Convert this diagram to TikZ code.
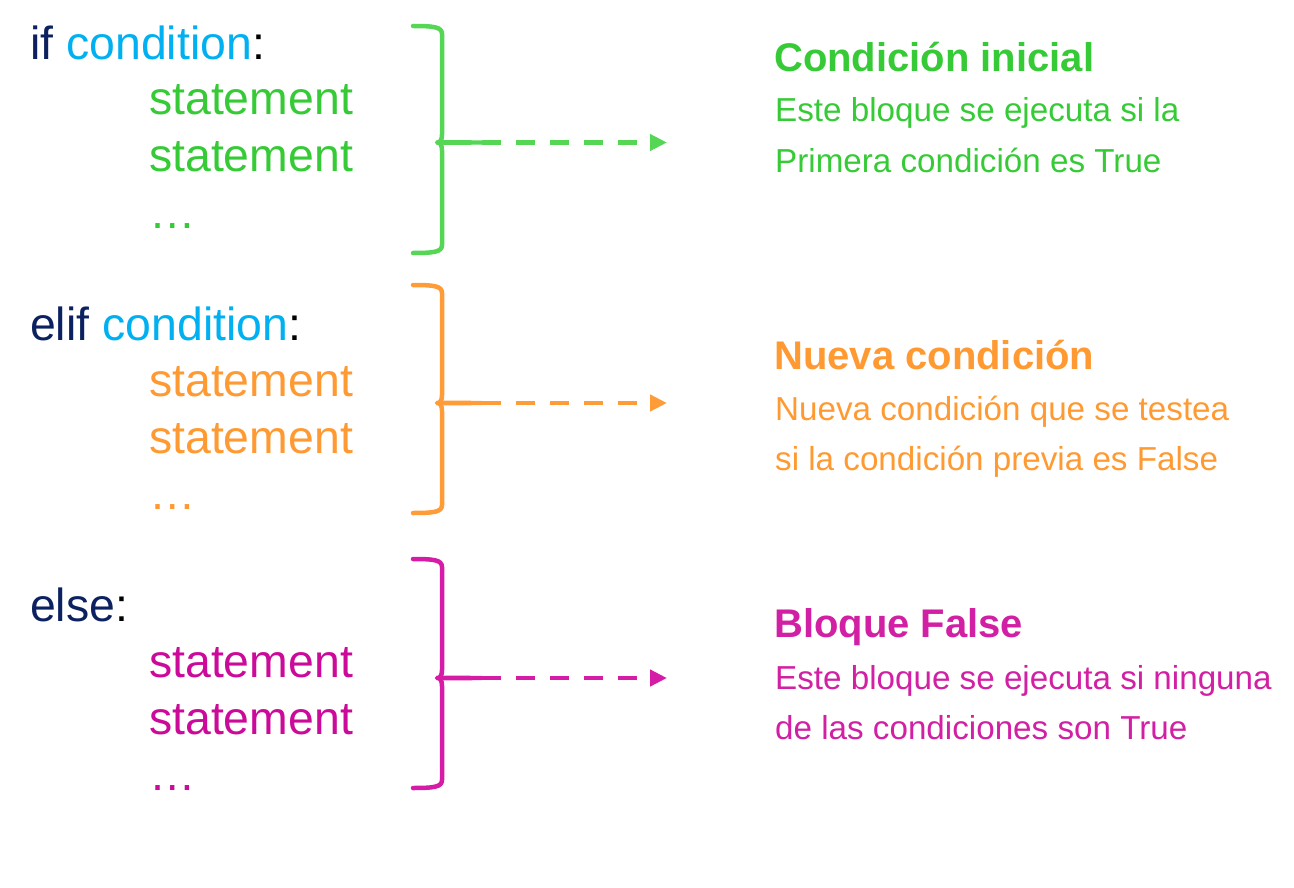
\documentclass[tikz,border=0pt]{standalone}
\usepackage{fontspec}
\setmainfont{Liberation Sans}
\usetikzlibrary{arrows.meta}
\definecolor{navy}{HTML}{0B2160}
\definecolor{cond}{HTML}{00B0F0}
\definecolor{gtext}{HTML}{36CB36}
\definecolor{gline}{HTML}{55D655}
\definecolor{otext}{HTML}{FF9A33}
\definecolor{oline}{HTML}{FF9C38}
\definecolor{mtext}{HTML}{CC0A9A}
\definecolor{mright}{HTML}{D220A4}
\definecolor{mline}{HTML}{D61CA6}
\tikzset{
  code/.style={anchor=base west,inner sep=0pt,font=\fontsize{46.4}{46.4}\selectfont},
  title/.style={anchor=base west,inner sep=0pt,font=\fontsize{40}{40}\selectfont\bfseries},
  desc/.style={anchor=base west,inner sep=0pt,font=\fontsize{33.2}{33.2}\selectfont},
  bracepath/.style={line width=4.5pt,line cap=round,line join=round},
  flow/.style={line width=4.5pt,dash pattern=on 19pt off 15pt,-{Triangle[length=17pt,width=16pt]}},
}
\begin{document}
\begin{tikzpicture}[x=1pt,y=-1pt]
\useasboundingbox (0,0) rectangle (1294,888);
% ---------- left code ----------
\node[code] (if) at (30,59.3) {\textcolor{navy}{if} \textcolor{cond}{condition}:};
\node[code,text=gtext] (gs1) at (149,115) {statement};
\node[code,text=gtext] (gs2) at (149,171.7) {statement};
\node[code,text=gtext] (gs3) at (149,228) {…};
\node[code] (elif) at (30,340) {\textcolor{navy}{elif} \textcolor{cond}{condition}:};
\node[code,text=otext] (os1) at (149,396.5) {statement};
\node[code,text=otext] (os2) at (149,453) {statement};
\node[code,text=otext] (os3) at (149,509) {…};
\node[code] (else) at (30,621.5) {\textcolor{navy}{else}:};
\node[code,text=mtext] (ms1) at (149,677.5) {statement};
\node[code,text=mtext] (ms2) at (149,734) {statement};
\node[code,text=mtext] (ms3) at (149,790) {…};
% ---------- right text ----------
\node[title,text=gtext] (gt) at (774,72) {Condición inicial};
\node[desc,text=gtext] (gd1) at (775,122) {Este bloque se ejecuta si la};
\node[desc,text=gtext] (gd2) at (775,172) {Primera condición es True};
\node[title,text=otext] (ot) at (774,369) {Nueva condición};
\node[desc,text=otext] (od1) at (775,420) {Nueva condición que se testea};
\node[desc,text=otext] (od2) at (775,470) {si la condición previa es False};
\node[title,text=mright] (mt) at (774,637) {Bloque False};
\node[desc,text=mright] (md1) at (775,689) {Este bloque se ejecuta si ninguna};
\node[desc,text=mright] (md2) at (775,739) {de las condiciones son True};
% ---------- braces ----------
\foreach \col/\top/\mid/\bot/\nm in {gline/26/142.5/253/g, oline/285/403/513/o, mline/559/678/788/m}{
  \draw[bracepath,\col] (413,\top) .. controls (434,\top) and (442,\top+1) .. (442,\top+8)
     -- (442,\mid-8) .. controls (442,\mid-2) and (440,\mid) .. (437,\mid)
     .. controls (440,\mid) and (442,\mid+2) .. (442,\mid+8)
     -- (442,\bot-8) .. controls (442,\bot-1) and (434,\bot) .. (413,\bot);
  \fill[\col] (439,\mid-2.4) -- (482,\mid-2.2) -- (482,\mid+2.2) -- (439,\mid+2.4) -- cycle;
  \coordinate (\nm tip) at (482,\mid);
  \coordinate (\nm end) at (667,\mid);
  \draw[flow,\col] (\nm tip) -- (\nm end);
}
\end{tikzpicture}
\end{document}
